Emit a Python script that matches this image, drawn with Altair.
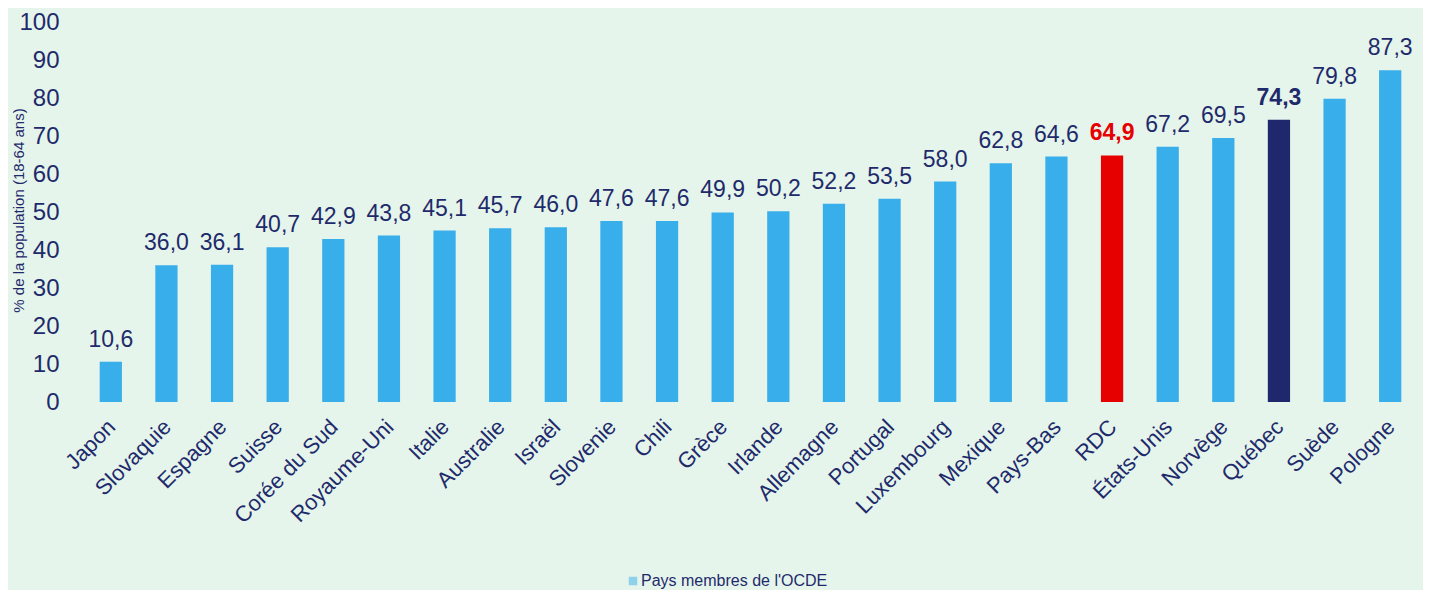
import altair as alt
import pandas as pd

pays = ["Japon", "Slovaquie", "Espagne", "Suisse", "Corée du Sud", "Royaume-Uni",
        "Italie", "Australie", "Israël", "Slovenie", "Chili", "Grèce", "Irlande",
        "Allemagne", "Portugal", "Luxembourg", "Mexique", "Pays-Bas", "RDC",
        "États-Unis", "Norvège", "Québec", "Suède", "Pologne"]
valeurs = [10.6, 36.0, 36.1, 40.7, 42.9, 43.8, 45.1, 45.7, 46.0, 47.6, 47.6, 49.9,
           50.2, 52.2, 53.5, 58.0, 62.8, 64.6, 64.9, 67.2, 69.5, 74.3, 79.8, 87.3]
groupes = ["Pays membres de l'OCDE"] * 18 + ["RDC", "Pays membres de l'OCDE",
           "Pays membres de l'OCDE", "Québec", "Pays membres de l'OCDE",
           "Pays membres de l'OCDE"]
ticks_y = [0, 10, 20, 30, 40, 50, 60, 70, 80, 90, 100]

df = pd.DataFrame({"pays": pays, "valeur": valeurs, "groupe": groupes})

NAVY = "#1F2A6B"
FONT = "Liberation Sans"

x = alt.X("pays:N", sort=pays, title=None,
          scale=alt.Scale(paddingInner=0.6, paddingOuter=0.3),
          axis=alt.Axis(labelAngle=-45, labelAlign="right", labelBaseline="middle",
                        labelFontSize=22, labelColor=NAVY, labelFont=FONT,
                        ticks=False, tickSize=0, domain=False, labelPadding=21,
                        labelOffset=1, labelOverlap=False, labelLimit=0))
y = alt.Y("valeur:Q", title="% de la population (18-64 ans)",
          scale=alt.Scale(domain=[0, 100], nice=False),
          axis=alt.Axis(values=ticks_y, labelFontSize=24,
                        labelColor=NAVY, labelFont=FONT, ticks=False, domain=False,
                        grid=False, labelPadding=24, labelOverlap=False,
                        labelFlush=False, labelBound=False, titleFontSize=15,
                        titleFont=FONT, titleColor=NAVY, titleFontWeight="normal",
                        titleX=-65, titleY=188, titleBaseline="middle",
                        titleAlign="center", titleAngle=-90))

base = alt.Chart(df).transform_calculate(
    label="replace(format(datum.valeur, '.1f'), '.', ',')"
)

bars = base.mark_bar().encode(
    x=x, y=y,
    color=alt.Color("groupe:N",
                    scale=alt.Scale(domain=["Pays membres de l'OCDE", "RDC", "Québec"],
                                    range=["#38AEEA", "#E60000", "#1F286C"]),
                    legend=alt.Legend(values=["Pays membres de l'OCDE"], title=None,
                                      orient="none", legendX=542, legendY=551,
                                      symbolType="square", symbolSize=72,
                                      symbolOpacity=0.5, labelFontSize=16,
                                      labelColor=NAVY, labelFont=FONT,
                                      labelOffset=0, labelLimit=0, padding=0)),
)

txt_normal = base.transform_filter(
    "datum.groupe == \"Pays membres de l'OCDE\""
).mark_text(baseline="alphabetic", dy=-15, fontSize=23, font=FONT, color=NAVY).encode(
    x=x, y=y, text="label:N"
)

txt_bold = base.transform_filter(
    "datum.groupe != \"Pays membres de l'OCDE\""
).mark_text(baseline="alphabetic", dy=-15, fontSize=23, font=FONT,
            fontWeight="bold").encode(
    x=x, y=y, text="label:N",
    color=alt.condition("datum.groupe == 'RDC'", alt.value("#E60000"), alt.value(NAVY))
)

chart = alt.layer(bars, txt_normal, txt_bold).properties(
    width=1335, height=380,
    background="#E5F5EC",
    padding={"left": 75, "top": 14, "right": 5, "bottom": 188},
    autosize=alt.AutoSizeParams(type="none"),
).configure_view(stroke=None)

chart.save("out.html", embed_options={"renderer": "svg", "actions": False})
